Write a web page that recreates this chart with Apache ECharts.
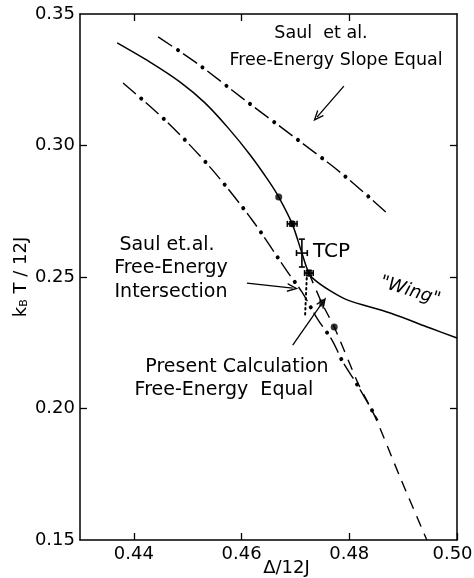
<!DOCTYPE html>
<html>
<head>
<meta charset="utf-8">
<script src="https://cdn.jsdelivr.net/npm/echarts@6/dist/echarts.min.js"></script>
<style>
  html, body { margin: 0; padding: 0; background: #fff; }
  #chart { width: 474px; height: 578px; }
</style>
</head>
<body>
<div id="chart"></div>
<script>
// axis ticks
const xTicks = [0.44, 0.46, 0.48, 0.50];
const yTicks = [0.15, 0.20, 0.25, 0.30, 0.35];

// present calculation: first-order line + "wing" (solid)
const solidLine = [
  [0.4369, 0.3390], [0.4430, 0.3317], [0.4486, 0.3241], [0.4532, 0.3162],
  [0.4575, 0.3067], [0.4616, 0.2964], [0.4649, 0.2869], [0.4669, 0.2804],
  [0.4694, 0.2702], [0.4712, 0.2591], [0.4725, 0.2515], [0.4738, 0.2485],
  [0.4765, 0.2447], [0.4796, 0.2413], [0.4876, 0.2363], [0.4950, 0.2306],
  [0.5000, 0.2268]
];
// present calculation, free-energy equal (dashed)
const dashedLine = [
  [0.4725, 0.2515], [0.4749, 0.2401], [0.4772, 0.2310], [0.4816, 0.2097],
  [0.4848, 0.1968], [0.4894, 0.1740], [0.4944, 0.1500]
];
// Saul et al. free-energy slope equal (dash-dot, upper)
const saulSlope = [
  [0.4445, 0.3413], [0.4519, 0.3310], [0.4606, 0.3173], [0.4695, 0.3036],
  [0.4785, 0.2895], [0.4874, 0.2736]
];
// Saul et al. free-energy intersection (dash-dot, lower)
const saulInter = [
  [0.4380, 0.3238], [0.4462, 0.3089], [0.4543, 0.2914], [0.4621, 0.2713],
  [0.4684, 0.2523], [0.4712, 0.2443], [0.4742, 0.2337], [0.4768, 0.2260],
  [0.4788, 0.2177], [0.4816, 0.2086], [0.4842, 0.1994], [0.4853, 0.1956]
];
// short dotted segment below the TCP
const dottedLine = [[0.4721, 0.2496], [0.4718, 0.2356]];

// measured points: [x, y, xErr, yErr]
const errPoints = [
  [0.4694, 0.2702, 0.0009, 0.0008],
  [0.4712, 0.2591, 0.0010, 0.0053],
  [0.4725, 0.2515, 0.0008, 0.0010]
];
const dotPoints = [[0.4669, 0.2804], [0.4694, 0.2702], [0.4725, 0.2515], [0.4772, 0.2310]];
const squarePoints = [[0.4749, 0.2401]];

// annotation arrows [from, to]
const arrows = [
  { from: [0.4610, 0.2477], to: [0.4695, 0.2458], curve: 0 },
  { from: [0.4695, 0.2241], to: [0.4751, 0.2405], curve: 0 },
  { from: [0.4790, 0.3226], to: [0.4740, 0.3108], curve: -0.35 }
];

const FONT = 'DejaVu Sans';
const chevron = 'path://M5,0 L10,10 L8.4,10 L5,3.2 L1.6,10 L0,10 Z';

const chart = echarts.init(document.getElementById('chart'));

function dashDot(name, data) {
  // dashes with a round dot in each gap
  return [
    {
      name: name, type: 'line', data: data, smooth: 0.3, symbol: 'none',
      lineStyle: { color: '#000', width: 1.4, type: [17, 13] }
    },
    {
      name: name + ' dots', type: 'line', data: data, smooth: 0.3, symbol: 'none',
      lineStyle: { color: '#000', width: 4, type: [0.01, 29.99], dashOffset: 6, cap: 'round' }
    }
  ];
}

function note(text, x, y, size) {
  return {
    type: 'text', x: x, y: y,
    style: { text: text, font: size + 'px "DejaVu Sans"', fill: '#000', align: 'center', verticalAlign: 'middle' }
  };
}

const option = {
  animation: false,
  backgroundColor: '#fff',
  textStyle: { fontFamily: FONT, color: '#000' },
  grid: { left: 80, right: 17, top: 14, bottom: 38, containLabel: false, outerBoundsMode: 'none' },
  xAxis: [
    {
      type: 'value', min: 0.43, max: 0.50,
      name: 'Δ/12J', nameLocation: 'middle', nameGap: 19, nameMoveOverlap: false,
      nameTextStyle: { fontSize: 18, color: '#000', padding: [0, 0, 0, 36] },
      axisLine: { lineStyle: { color: '#000', width: 1.5 } },
      axisTick: { inside: true, length: 7, customValues: xTicks, lineStyle: { color: '#000', width: 1.3 } },
      axisLabel: {
        customValues: xTicks, fontSize: 18, color: '#000', margin: 5,
        formatter: (v) => (v >= 0.499 ? '{r|' + v.toFixed(2) + '}' : v.toFixed(2)),
        rich: { r: { fontSize: 18, fontFamily: FONT, color: '#000', padding: [0, 9, 0, 0] } }
      },
      splitLine: { show: false }
    },
    {
      type: 'value', position: 'top', min: 0.43, max: 0.50,
      axisLine: { lineStyle: { color: '#000', width: 1.5 } },
      axisTick: { inside: true, length: 7, customValues: [0.44, 0.46, 0.48], lineStyle: { color: '#000', width: 1.3 } },
      axisLabel: { show: false },
      splitLine: { show: false }
    }
  ],
  yAxis: [
    {
      type: 'value', min: 0.15, max: 0.35,
      name: '{k|k}{b|B}{t| T / 12J}', nameLocation: 'middle', nameGap: 50, nameRotate: 90,
      nameMoveOverlap: false,
      nameTextStyle: {
        rich: {
          k: { fontSize: 18, fontFamily: FONT, color: '#000' },
          b: { fontSize: 11, fontFamily: FONT, color: '#000', verticalAlign: 'bottom', padding: [6, 0, 0, 0] },
          t: { fontSize: 18, fontFamily: FONT, color: '#000' }
        }
      },
      axisLine: { lineStyle: { color: '#000', width: 1.5 } },
      axisTick: { inside: true, length: 7, customValues: [0.20, 0.25, 0.30], lineStyle: { color: '#000', width: 1.3 } },
      axisLabel: { customValues: yTicks, fontSize: 18, color: '#000', margin: 5,
        formatter: (v) => v.toFixed(2) },
      splitLine: { show: false }
    },
    {
      type: 'value', position: 'right', min: 0.15, max: 0.35,
      axisLine: { lineStyle: { color: '#000', width: 1.5 } },
      axisTick: { inside: true, length: 7, customValues: [0.20, 0.25, 0.30], lineStyle: { color: '#000', width: 1.3 } },
      axisLabel: { show: false },
      splitLine: { show: false }
    }
  ],
  graphic: [
    note('Saul  et al.', 321, 33, 17.5),
    note('Free-Energy Slope Equal', 336, 60, 17.5),
    note('Saul et.al.', 167, 245, 19),
    note('Free-Energy', 171, 268, 19),
    note('Intersection', 171, 292, 19),
    { type: 'text', x: 313, y: 252,
      style: { text: 'TCP', font: '20px "DejaVu Sans"', fill: '#000', align: 'left', verticalAlign: 'middle' } },
    { type: 'text', x: 410, y: 291, rotation: -0.3,
      style: { text: '"Wing"', font: 'italic 18px "DejaVu Sans"', fill: '#000', align: 'center', verticalAlign: 'middle' } },
    note('Present Calculation', 237, 367, 19),
    note('Free-Energy  Equal', 224, 390, 19)
  ],
  series: [
    {
      name: 'Present calculation', type: 'line', data: solidLine, smooth: 0.3, symbol: 'none',
      lineStyle: { color: '#000', width: 1.5 },
      markLine: {
        silent: true, symbol: ['none', chevron], symbolSize: [9, 11],
        label: { show: false },
        lineStyle: { color: '#000', width: 1.3, type: 'solid' },
        data: arrows.map((a) => [
          { coord: a.from, lineStyle: { curveness: a.curve } },
          { coord: a.to }
        ])
      }
    },
    {
      name: 'Free-energy equal', type: 'line', data: dashedLine, smooth: 0.2, symbol: 'none',
      lineStyle: { color: '#000', width: 1.4, type: [11, 8] }
    },
    ...dashDot('Saul slope equal', saulSlope),
    ...dashDot('Saul intersection', saulInter),
    {
      name: 'dotted', type: 'line', data: dottedLine, symbol: 'none',
      lineStyle: { color: '#000', width: 2, type: [1.5, 3.5], cap: 'round' }
    },
    {
      name: 'error bars', type: 'custom', data: errPoints,
      renderItem: (params, api) => {
        const x = api.value(0), y = api.value(1), dx = api.value(2), dy = api.value(3);
        const l = api.coord([x - dx, y]), r = api.coord([x + dx, y]);
        const t = api.coord([x, y + dy]), b = api.coord([x, y - dy]);
        const st = { stroke: '#000', lineWidth: 1.6 };
        return {
          type: 'group',
          children: [
            { type: 'line', shape: { x1: l[0], y1: l[1], x2: r[0], y2: r[1] }, style: st },
            { type: 'line', shape: { x1: l[0], y1: l[1] - 3, x2: l[0], y2: l[1] + 3 }, style: st },
            { type: 'line', shape: { x1: r[0], y1: r[1] - 3, x2: r[0], y2: r[1] + 3 }, style: st },
            { type: 'line', shape: { x1: t[0], y1: t[1], x2: b[0], y2: b[1] }, style: st },
            { type: 'line', shape: { x1: t[0] - 3, y1: t[1], x2: t[0] + 3, y2: t[1] }, style: st },
            { type: 'line', shape: { x1: b[0] - 3, y1: b[1], x2: b[0] + 3, y2: b[1] }, style: st }
          ]
        };
      }
    },
    {
      name: 'points', type: 'scatter', data: dotPoints, symbol: 'circle', symbolSize: 7,
      itemStyle: { color: '#000' }
    },
    {
      name: 'square', type: 'scatter', data: squarePoints, symbol: 'rect', symbolSize: [5, 7],
      itemStyle: { color: '#000' }
    }
  ]
};

chart.setOption(option);
</script>
</body>
</html>
